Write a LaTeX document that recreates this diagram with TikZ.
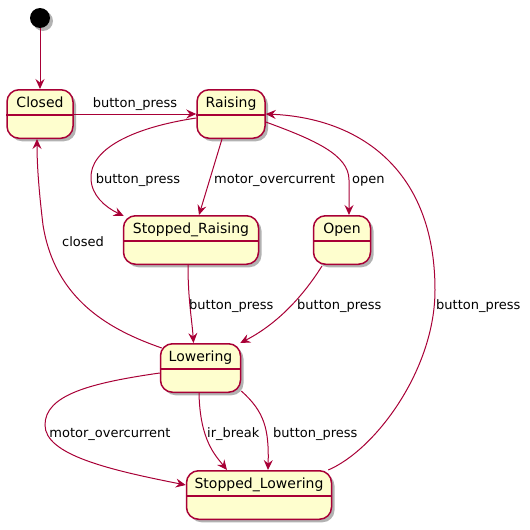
\documentclass[tikz,border=0pt]{standalone}
\usepackage{fontspec}
\setmainfont{DejaVu Sans}
\usetikzlibrary{arrows.meta,calc,shadows}
\definecolor{umlred}{HTML}{A80036}
\definecolor{umlfill}{HTML}{FEFECE}
\tikzset{>={Stealth[length=10pt,width=9pt,inset=3.5pt]}}
\tikzset{
  umlshadow/.style={drop shadow={shadow xshift=3pt,shadow yshift=-3pt,opacity=.3,fill=black}},
  umlstate/.style={draw=umlred,fill=umlfill,line width=1.5pt,rounded corners=12pt,
      minimum height=48.5pt,inner sep=0pt,text height=10pt,text depth=24pt,
      font=\fontsize{14pt}{16pt}\selectfont,umlshadow},
  initdot/.style={circle,fill=black,minimum size=20pt,inner sep=0pt,umlshadow},
  trans/.style={->,draw=umlred,line width=1pt},
  lbl/.style={font=\fontsize{13pt}{15pt}\selectfont,inner sep=0pt}
}

\begin{document}
\begin{tikzpicture}[x=1pt,y=-1pt]
    \useasboundingbox (0,0) rectangle (530,530);
    % states
    \node[initdot] (init) at (40,18) {};
    \node[umlstate,minimum width=66pt] (closed) at (40,114) {Closed};
    \node[umlstate,minimum width=68pt] (raising) at (231,114) {Raising};
    \node[umlstate,minimum width=135pt] (stoppedraising) at (191,240) {Stopped\_Raising};
    \node[umlstate,minimum width=57pt] (open) at (342,240) {Open};
    \node[umlstate,minimum width=80pt] (lowering) at (200.5,368) {Lowering};
    \node[umlstate,minimum width=145pt] (stoppedlowering) at (259,495) {Stopped\_Lowering};
    \foreach \s in {closed,raising,stoppedraising,open,lowering,stoppedlowering} {
        \draw[umlred,line width=1.5pt] ([yshift=-1pt]\s.west) -- ([yshift=-1pt]\s.east);
      }

    % transitions
    \draw[trans] (init) -- (closed);
    \draw[trans] (closed) -- (raising);
    \draw[trans] ($(raising.west)+(0,4)$) .. controls (130,128) and (90,150) .. (91,178)
        .. controls (91,195) and (105,207) .. ($(stoppedraising.north west)+(1,1)$);
    \draw[trans] ($(raising.south)+(-9,0)$) -- ($(stoppedraising.north)+(8,0)$);
    \draw[trans] ($(raising.east)+(0,8)$) .. controls (315,140) and (349,155) .. (349,180)
        -- ($(open.north)+(7,0)$);
    \draw[trans] ($(stoppedlowering.north east)+(-4,0)$) .. controls (375,450) and (435,370) .. (435,290)
        .. controls (435,170) and (360,118) .. (raising.east);
    \draw[trans] ($(stoppedraising.south)+(-3,0)$) .. controls (188,300) and (192,320) .. ($(lowering.north)+(-7,0)$);
    \draw[trans] ($(open.south)+(-20,1)$) .. controls (310,285) and (285,320) .. ($(lowering.north east)+(-1,0)$);
    \draw[trans] ($(lowering.west)+(2,-20)$) .. controls (110,330) and (55,300) .. (43,225)
        .. controls (40,200) and (37,170) .. ($(closed.south)+(-3,0)$);
    \draw[trans] ($(lowering.west)+(0,5)$) .. controls (90,383) and (45,395) .. (45,425)
        .. controls (45,455) and (110,470) .. ($(stoppedlowering.west)+(0,-10)$);
    \draw[trans] ($(lowering.south)+(-1.5,0)$) .. controls (200,440) and (215,455) .. ($(stoppedlowering.north)+(-32,0)$);
    \draw[trans] ($(lowering.south east)+(0,-2)$) .. controls (265,412) and (269,430) .. ($(stoppedlowering.north)+(9,0)$);

    % labels
    \node[lbl,anchor=base] (lclosedraising) at (135,107) {button\_press};
    \node[lbl,anchor=base] (lraisingsr) at (138,183) {button\_press};
    \node[lbl,anchor=base west] (lraisingmo) at (214,183) {motor\_overcurrent};
    \node[lbl,anchor=base west] (lraisingopen) at (352,183) {open};
    \node[lbl,anchor=base] (lloweringclosed) at (83,246) {closed};
    \node[lbl,anchor=base west] (lsrlowering) at (189,309) {button\_press};
    \node[lbl,anchor=base west] (lopenlowering) at (297,309) {button\_press};
    \node[lbl,anchor=base west] (lslraising) at (436,309) {button\_press};
    \node[lbl,anchor=base] (lloweringmo) at (110,437) {motor\_overcurrent};
    \node[lbl,anchor=base west] (lloweringir) at (207,437) {ir\_break};
    \node[lbl,anchor=base west] (lloweringbp) at (273,437) {button\_press};
  \end{tikzpicture}
\end{document}
